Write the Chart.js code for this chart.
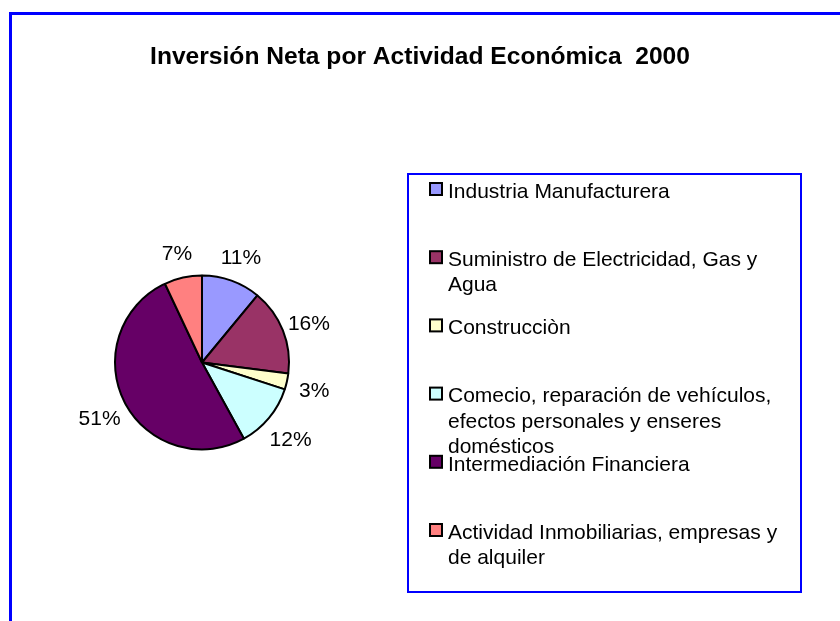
<!DOCTYPE html>
<html>
<head>
<meta charset="utf-8">
<script src="https://cdn.jsdelivr.net/npm/chart.js@4/dist/chart.umd.min.js"></script>
<style>
  html, body { margin: 0; background: #fff; }
  #contenedor { width: 840px; height: 621px; position: relative; }
</style>
</head>
<body>
<div id="contenedor"><canvas id="grafico-inversion"></canvas></div>
<script>
// Datos
const titulo = "Inversión Neta por Actividad Económica  2000";
const actividades = [
  ["Industria Manufacturera"],
  ["Suministro de Electricidad, Gas y", "Agua"],
  ["Construcciòn"],
  ["Comecio, reparación de vehículos,", "efectos personales y enseres", "domésticos"],
  ["Intermediación Financiera"],
  ["Actividad Inmobiliarias, empresas y", "de alquiler"],
];
const porcentajes = [11, 16, 3, 12, 51, 7];
const colores = ["#9999FF", "#993366", "#FFFFCC", "#CCFFFF", "#660066", "#FF8080"];

const fuente = "'Liberation Sans', Arial, sans-serif";
const azul = "#0000FF";

// marco exterior, titulo y leyenda
const pluginMarco = {
  id: "marco",
  beforeDraw(chart) {
    const ctx = chart.ctx;
    ctx.save();
    ctx.fillStyle = "#fff";
    ctx.fillRect(0, 0, chart.width, chart.height);
    ctx.strokeStyle = azul;
    ctx.lineWidth = 3;
    ctx.strokeRect(10.5, 13.5, chart.width + 20, chart.height + 20);

    ctx.fillStyle = "#000";
    ctx.font = `bold 24.6px ${fuente}`;
    ctx.textAlign = "center";
    ctx.textBaseline = "middle";
    ctx.fillText(titulo, 420, 57);
    ctx.restore();
  },
  afterDraw(chart) {
    const ctx = chart.ctx;
    ctx.save();
    ctx.strokeStyle = azul;
    ctx.lineWidth = 2;
    ctx.strokeRect(408, 174, 393, 418);

    ctx.font = `21px ${fuente}`;
    ctx.textAlign = "left";
    ctx.textBaseline = "middle";
    actividades.forEach((lineas, i) => {
      const y = 192 + i * 68.2;
      ctx.fillStyle = colores[i];
      ctx.fillRect(430, y - 9, 12, 12);
      ctx.strokeStyle = "#000";
      ctx.lineWidth = 2;
      ctx.strokeRect(430, y - 9, 12, 12);
      ctx.fillStyle = "#000";
      lineas.forEach((l, j) => ctx.fillText(l, 448, y + j * 25.5));
    });
    ctx.restore();
  },
};

// porcentajes fuera de cada porcion
const pluginEtiquetas = {
  id: "etiquetas",
  afterDatasetsDraw(chart) {
    const ctx = chart.ctx;
    const meta = chart.getDatasetMeta(0);
    ctx.save();
    ctx.font = `21px ${fuente}`;
    ctx.fillStyle = "#000";
    ctx.textAlign = "center";
    ctx.textBaseline = "middle";
    meta.data.forEach((arco, i) => {
      const { x, y, startAngle, endAngle, outerRadius } = arco.getProps(
        ["x", "y", "startAngle", "endAngle", "outerRadius"], true);
      const medio = (startAngle + endAngle) / 2;
      const d = outerRadius + 28;
      ctx.fillText(`${porcentajes[i]}%`, x + Math.cos(medio) * d, y + Math.sin(medio) * d + 4);
    });
    ctx.restore();
  },
};

new Chart(document.getElementById("grafico-inversion"), {
  type: "pie",
  data: {
    labels: actividades,
    datasets: [{
      data: porcentajes,
      backgroundColor: colores,
      borderColor: "#000",
      borderWidth: 2,
    }],
  },
  options: {
    responsive: true,
    maintainAspectRatio: false,
    animation: false,
    events: [],
    layout: { padding: { left: 114, right: 550, top: 274, bottom: 170 } },
    plugins: {
      legend: { display: false },
      title: { display: false },
      tooltip: { enabled: false },
    },
  },
  plugins: [pluginMarco, pluginEtiquetas],
});
</script>
</body>
</html>
